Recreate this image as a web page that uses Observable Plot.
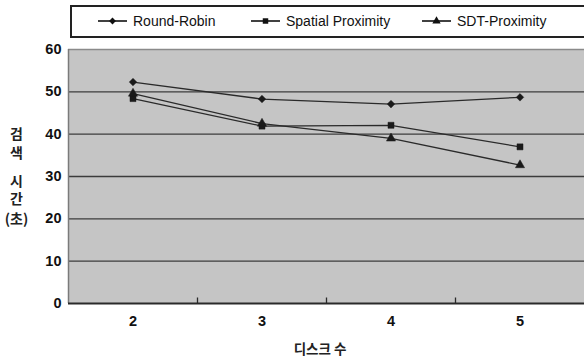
<!DOCTYPE html>
<html><head><meta charset="utf-8">
<script src="https://cdn.jsdelivr.net/npm/d3@7"></script>
<script src="https://cdn.jsdelivr.net/npm/@observablehq/plot@0.6"></script>
<style>
html,body{margin:0;padding:0;background:#fff;}
#wrap{position:relative;width:584px;height:360px;overflow:hidden;font-family:"Liberation Sans",Arial,sans-serif;}
#legend{position:absolute;left:70px;top:5px;width:530px;height:29px;border:2px solid #222;background:#fff;}
.item{position:absolute;top:6px;font-size:14px;color:#111;display:flex;align-items:center;}
.item svg{margin-right:6px;}
.yt{position:absolute;left:0;width:33px;text-align:center;font-family:"Noto Sans CJK KR",sans-serif;font-weight:bold;font-size:14px;color:#222;line-height:16px;height:16px;}
#xtitle{position:absolute;left:0;width:640px;top:338px;text-align:center;font-family:"Noto Sans CJK KR",sans-serif;font-weight:bold;font-size:13.5px;color:#222;}
</style>
</head><body>
<div id="wrap">
<div id="chart"></div>
<div id="legend"></div>
<div id="ytitle"></div>
<div id="xtitle"></div>
</div>
<script>
const disks = [2, 3, 4, 5];
const seriesNames = ["Round-Robin", "Spatial Proximity", "SDT-Proximity"];
const roundRobin = [52.3, 48.3, 47.1, 48.7];
const spatialProximity = [48.4, 41.9, 42.1, 37.0];
const sdtProximity = [49.6, 42.5, 39.0, 32.7];
const yTicks = [0, 10, 20, 30, 40, 50, 60];
const xTitle = "디스크 수";
const yTitleLines = ["검", "색", "시", "간", "(초)"];

const symbols = ["diamond2", "square", "triangle"];
const seriesValues = [roundRobin, spatialProximity, sdtProximity];
const data = [];
seriesValues.forEach((vals, i) => vals.forEach((v, j) => data.push({series: seriesNames[i], x: disks[j], y: v})));

const chart = Plot.plot({
  width: 584, height: 360,
  marginTop: 49, marginBottom: 57, marginLeft: 68, marginRight: 0,
  x: {domain: [1.5, 5.5], axis: null},
  y: {domain: [0, 60], axis: null},
  style: {fontFamily: "'Liberation Sans', Arial, sans-serif", background: "transparent"},
  marks: [
    Plot.frame({fill: "#c5c5c5", stroke: null}),
    Plot.ruleY(yTicks.filter(d => d > 0 && d < 60), {stroke: "#3c3c3c", strokeWidth: 1.4}),
    Plot.ruleY([60], {stroke: "#8a8a8a", strokeWidth: 1.5}),
    Plot.ruleX([1.5], {stroke: "#7a7a7a", strokeWidth: 1.5}),
    Plot.ruleY([0], {stroke: "#2a2a2a", strokeWidth: 2.2}),
    Plot.ruleX([2.5, 3.5, 4.5], {y1: 0, y2: 1.3, stroke: "#2a2a2a", strokeWidth: 1.3}),
    Plot.line(data, {x: "x", y: "y", z: "series", stroke: "#2a2a2a", strokeWidth: 1.3}),
    Plot.dot(data, {x: "x", y: "y", symbol: "series", fill: "#1a1a1a", stroke: "#1a1a1a", strokeWidth: 0.5, r: 3.4}),
    Plot.axisY(yTicks, {tickSize: 0, tickPadding: 7, fontSize: 14.5, fontWeight: "bold", fill: "#111", label: null}),
    Plot.axisX(disks, {tickSize: 0, tickPadding: 12, fontSize: 14.5, fontWeight: "bold", fill: "#111", label: null, tickFormat: d => String(d)})
  ],
  symbol: {domain: seriesNames, range: symbols}
});
document.getElementById("chart").appendChild(chart);

// legend
const legend = document.getElementById("legend");
const lefts = [26, 179, 350];
seriesNames.forEach((name, i) => {
  const it = document.createElement("div");
  it.className = "item";
  it.style.left = lefts[i] + "px";
  const type = [d3.symbolDiamond2, d3.symbolSquare, d3.symbolTriangle][i];
  const sym = d3.symbol().type(type).size(30)();
  it.innerHTML = `<svg width="29" height="12"><line x1="0" x2="29" y1="6" y2="6" stroke="#111" stroke-width="1.6"/><path d="${sym}" transform="translate(14.5,6)" fill="#111"/></svg><span>${name}</span>`;
  legend.appendChild(it);
});
const yCenters = [133, 152, 180, 198, 218];
const yt = document.getElementById("ytitle");
yTitleLines.forEach((t, i) => {
  const d = document.createElement("div");
  d.className = "yt";
  d.style.top = (yCenters[i] - 8) + "px";
  d.textContent = t;
  yt.appendChild(d);
});
document.getElementById("xtitle").textContent = xTitle;
</script>
</body></html>
